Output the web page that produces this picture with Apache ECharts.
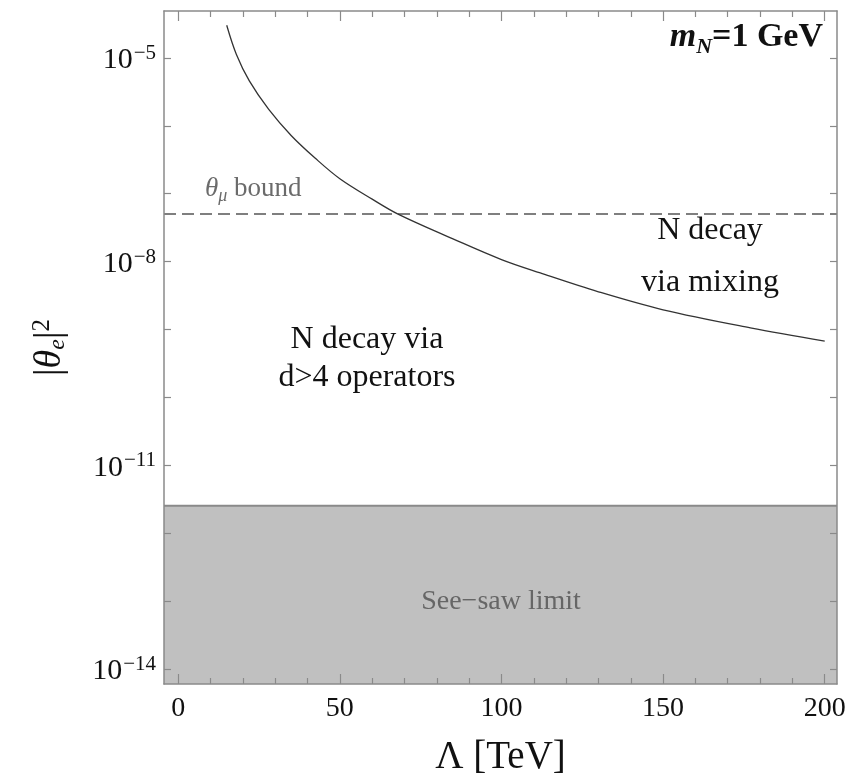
<!DOCTYPE html>
<html>
<head>
<meta charset="utf-8">
<script src="https://cdn.jsdelivr.net/npm/echarts@6/dist/echarts.min.js"></script>
<style>
  html, body { margin: 0; padding: 0; background: #fff; }
  #chart { width: 851px; height: 778px; }
</style>
</head>
<body>
<div id="chart"></div>
<script>
// curve: Lambda [TeV] vs |theta_e|^2
var lambdaTeV = [15, 18, 22, 28, 35, 42.5, 50, 60, 68, 85, 100, 112, 130, 150, 177, 200];
var thetaSq = [3.02e-5, 1.12e-5, 4.57e-6, 1.74e-6, 7.14e-7, 3.29e-7, 1.66e-7, 8.3e-8, 5.0e-8, 2.16e-8, 1.07e-8, 6.8e-9, 3.59e-9, 1.95e-9, 1.06e-9, 6.76e-10];

var muBound = 5.0e-8;        // dashed theta_mu bound
var seesawLimit = 2.55e-12;  // top of grey band

var xMin = -4.4, xMax = 203.8;
var yMin = Math.pow(10, -14.22), yMax = Math.pow(10, -4.31);

var xMajorTicks = [0, 50, 100, 150, 200];
var xMinorTicks = [10, 20, 30, 40, 60, 70, 80, 90, 110, 120, 130, 140, 160, 170, 180, 190];
var yTicks = [1e-14, 1e-13, 1e-12, 1e-11, 1e-10, 1e-9, 1e-8, 1e-7, 1e-6, 1e-5];
var yLabels = [1e-14, 1e-11, 1e-8, 1e-5];

var serif = 'Liberation Serif';
var frame = '#8a8a8a';

function xAxisDef(pos, ticks, len, main) {
    return {
        type: 'value',
        position: pos,
        min: xMin, max: xMax,
        z: 10,
        splitLine: { show: false },
        axisLine: { show: main, onZero: false, lineStyle: { color: frame, width: 1.5 } },
        axisTick: { show: true, inside: true, length: len, customValues: ticks,
                    lineStyle: { color: frame, width: 1.2 } },
        axisLabel: pos === 'bottom' && main ? {
            show: true, customValues: xMajorTicks, margin: 11,
            fontFamily: serif, fontSize: 28, color: '#111'
        } : { show: false },
        name: pos === 'bottom' && main ? 'Λ [TeV]' : '',
        nameLocation: 'middle',
        nameGap: 54,
        nameTextStyle: { fontFamily: serif, fontSize: 39, color: '#111' }
    };
}

function yAxisDef(pos) {
    return {
        type: 'log',
        position: pos,
        min: yMin, max: yMax,
        z: 10,
        splitLine: { show: false },
        axisLine: { show: true, onZero: false, lineStyle: { color: frame, width: 1.5 } },
        axisTick: { show: true, inside: true, length: 7, customValues: yTicks,
                    lineStyle: { color: frame, width: 1.2 } },
        axisLabel: { show: false }
    };
}

function yLabelFmt(v) {
    var e = Math.round(Math.log(v) / Math.LN10);
    return '{b|10}{s|−' + (-e) + '}';
}

var yLeft = yAxisDef('left');
yLeft.axisLabel = {
    show: true,
    customValues: yLabels,
    margin: 8,
    formatter: yLabelFmt,
    rich: {
        b: { fontFamily: serif, fontSize: 30, color: '#111', lineHeight: 30, padding: [5, 0, 0, 0] },
        s: { fontFamily: serif, fontSize: 21, color: '#111', lineHeight: 21, padding: [0, 0, 0, 1], verticalAlign: 'top' }
    }
};
yLeft.name = '{b||}{i|θ}{sub|e}{b||}{sup|2}';
yLeft.nameLocation = 'middle';
yLeft.nameRotate = 90;
yLeft.nameGap = 94;
yLeft.nameTextStyle = {
    rich: {
        b: { fontFamily: serif, fontSize: 38, color: '#111', lineHeight: 40 },
        i: { fontFamily: serif, fontSize: 38, fontStyle: 'italic', color: '#111', lineHeight: 40 },
        sub: { fontFamily: serif, fontSize: 24, fontStyle: 'italic', color: '#111',
               lineHeight: 24, padding: [16, 0, 0, 0], verticalAlign: 'top' },
        sup: { fontFamily: serif, fontSize: 25, color: '#111', lineHeight: 25, verticalAlign: 'top' }
    }
};

var option = {
    animation: false,
    grid: { left: 164, top: 11, right: 14, bottom: 94, outerBoundsMode: 'none' },
    xAxis: [
        xAxisDef('bottom', xMajorTicks, 10, true),
        xAxisDef('bottom', xMinorTicks, 6, false),
        xAxisDef('top', xMajorTicks, 10, true),
        xAxisDef('top', xMinorTicks, 6, false)
    ],
    yAxis: [yLeft, yAxisDef('right')],
    series: [
        {
            // grey see-saw band
            type: 'line',
            data: [[xMin, seesawLimit], [xMax, seesawLimit]],
            symbol: 'none',
            lineStyle: { color: '#8a8a8a', width: 2 },
            areaStyle: { color: '#c0c0c0', opacity: 1, origin: 'start' },
            z: 1
        },
        {
            // theta_mu bound
            type: 'line',
            data: [[xMin, muBound], [xMax, muBound]],
            symbol: 'none',
            lineStyle: { color: '#7f7f7f', width: 2, type: [12, 6] },
            z: 3
        },
        {
            type: 'line',
            data: lambdaTeV.map(function (x, i) { return [x, thetaSq[i]]; }),
            smooth: 0.35,
            symbol: 'none',
            lineStyle: { color: '#333', width: 1.3 },
            z: 5
        }
    ],
    graphic: [
        {
            type: 'text', left: 205, top: 175, z: 20,
            style: {
                text: '{t|θ}{m|μ}{n| bound}',
                rich: {
                    t: { fontFamily: serif, fontSize: 27, fontStyle: 'italic', fill: '#6b6b6b', lineHeight: 28 },
                    m: { fontFamily: serif, fontSize: 18, fontStyle: 'italic', fill: '#6b6b6b',
                         lineHeight: 18, padding: [12, 0, 0, 0], verticalAlign: 'top' },
                    n: { fontFamily: serif, fontSize: 27, fill: '#6b6b6b', lineHeight: 28 }
                }
            }
        },
        {
            type: 'text', x: 367, y: 359, z: 20,
            style: {
                text: 'N decay via\nd>4 operators', fontFamily: serif, fontSize: 32,
                lineHeight: 38, fill: '#111', align: 'center', verticalAlign: 'middle'
            }
        },
        {
            type: 'text', x: 710, y: 257, z: 20,
            style: {
                text: 'N decay\nvia mixing', fontFamily: serif, fontSize: 32,
                lineHeight: 52, fill: '#111', align: 'center', verticalAlign: 'middle'
            }
        },
        {
            type: 'text', x: 501, y: 602, z: 20,
            style: {
                text: 'See−saw limit', fontFamily: serif, fontSize: 28,
                fill: '#666', align: 'center', verticalAlign: 'middle'
            }
        },
        {
            type: 'text', right: 28, top: 20, z: 20,
            style: {
                text: '{i|m}{sub|N}{b|=1 GeV}',
                rich: {
                    i: { fontFamily: serif, fontSize: 34, fontStyle: 'italic', fontWeight: 'bold', fill: '#111', lineHeight: 34 },
                    sub: { fontFamily: serif, fontSize: 22, fontStyle: 'italic', fontWeight: 'bold', fill: '#111',
                           lineHeight: 22, padding: [16, 0, 0, 0], verticalAlign: 'top' },
                    b: { fontFamily: serif, fontSize: 34, fontWeight: 'bold', fill: '#111', lineHeight: 34 }
                }
            }
        }
    ]
};

var myChart = echarts.init(document.getElementById('chart'));
myChart.setOption(option);
</script>
</body>
</html>
